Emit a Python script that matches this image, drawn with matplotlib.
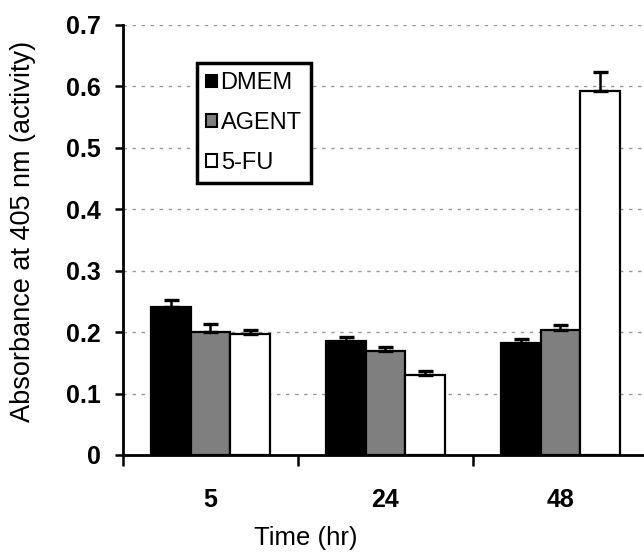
import matplotlib
matplotlib.use("Agg")
import matplotlib.pyplot as plt
import numpy as np
from matplotlib.patches import Patch

categories = ["5", "24", "48"]
series_names = ["DMEM", "AGENT", "5-FU"]
dmem = [0.241, 0.186, 0.183]
agent = [0.200, 0.170, 0.204]
fu = [0.197, 0.130, 0.592]
dmem_err = [0.011, 0.006, 0.006]
agent_err = [0.013, 0.006, 0.008]
fu_err = [0.007, 0.007, 0.031]
y_ticks = [0, 0.1, 0.2, 0.3, 0.4, 0.5, 0.6, 0.7]
y_tick_labels = ["0", "0.1", "0.2", "0.3", "0.4", "0.5", "0.6", "0.7"]

colors = ["#000000", "#7f7f7f", "#ffffff"]
values = [dmem, agent, fu]
errs = [dmem_err, agent_err, fu_err]

regular = ["Liberation Sans", "DejaVu Sans"]
plt.rcParams["font.family"] = regular

W, H = 644, 552
fig = plt.figure(figsize=(W / 100, H / 100), dpi=100)
ax = fig.add_axes([123 / W, (H - 455) / H, 525 / W, 430 / H])

x = np.arange(len(categories))
bw = 0.225
offsets = [-bw, 0, bw]
for i in range(3):
    n = len(categories)
    ax.bar(x + offsets[i], values[i], width=bw, color=colors[i],
           edgecolor="black", linewidth=1.6, zorder=3)
    ax.errorbar(x + offsets[i], values[i], yerr=[[0] * n, errs[i]], fmt="none",
                ecolor="black", elinewidth=1.8, capsize=5.4, capthick=2.4, zorder=4)

ax.set_xlim(-0.5, 2.5)
ax.set_ylim(0, 0.7)
ax.set_yticks(y_ticks)
ax.set_yticklabels(y_tick_labels, fontsize=18, fontweight="bold")
ax.set_xticks(x)
ax.set_xticklabels(categories, fontsize=18, fontweight="bold")
ax.set_xticks([-0.5, 0.5, 1.5, 2.5], minor=True)
ax.tick_params(axis="x", which="major", length=0, pad=24)
ax.tick_params(axis="x", which="minor", length=8, width=1.8, direction="out")
ax.tick_params(axis="y", which="major", length=6, width=1.8, direction="out", pad=10)

for s in ["top", "right"]:
    ax.spines[s].set_visible(False)
for s in ["left", "bottom"]:
    ax.spines[s].set_linewidth(2.0)

for yv in y_ticks[1:]:
    ax.axhline(yv, color="#999999", linestyle=(0, (2.5, 4)), linewidth=1.0, zorder=1)

ax.set_ylabel("Absorbance at 405 nm (activity)", fontsize=19.5)
ax.yaxis.set_label_coords(-0.165, 0.52)
ax.set_xlabel("Time (hr)", fontsize=18.5)
ax.xaxis.set_label_coords(0.349, -0.165)

handles = [Patch(facecolor=c, edgecolor="black", linewidth=1.5) for c in colors]
leg = ax.legend(handles, series_names, loc="upper left",
                bbox_to_anchor=((197 - 123) / 525, (455 - 63) / 430),
                borderaxespad=0, fontsize=17, frameon=True, fancybox=False,
                framealpha=1.0,
                handlelength=0.45, handleheight=0.45, handletextpad=0.15,
                labelspacing=0.75, borderpad=0.4)
leg.get_frame().set_edgecolor("black")
leg.get_frame().set_linewidth(2.5)
leg.set_zorder(5)

fig.savefig("out.png", dpi=100)
